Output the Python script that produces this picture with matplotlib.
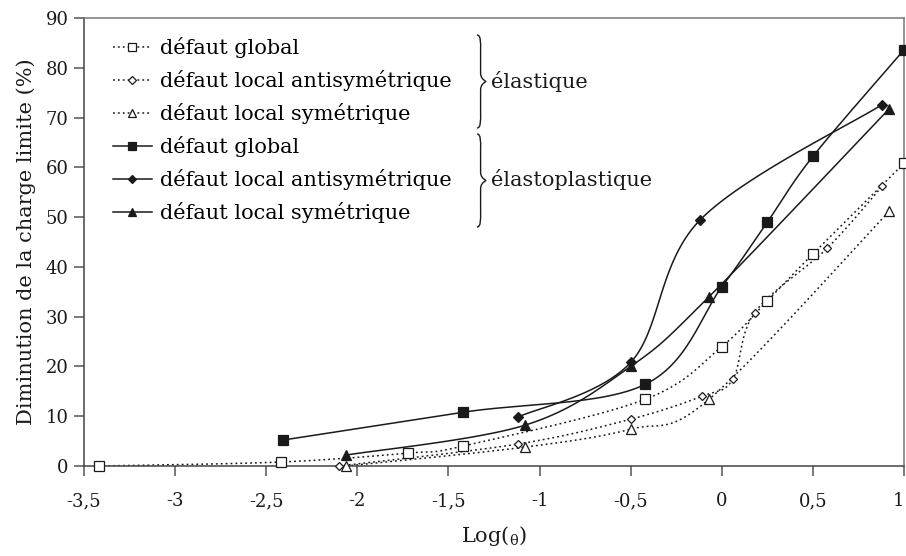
import numpy as np
import matplotlib
matplotlib.use("Agg")
import matplotlib.pyplot as plt
from matplotlib.path import Path
from matplotlib.patches import PathPatch

plt.rcParams['font.family'] = ['DejaVu Serif']
plt.rcParams['mathtext.fontset'] = 'dejavuserif'

# elastic case (open markers, dotted)
el_glob_x = [-3.42, -2.42, -1.72, -1.42, -0.42, 0.0, 0.25, 0.5, 1.0]
el_glob_y = [0.0, 0.8, 2.6, 4.0, 13.4, 24.0, 33.2, 42.6, 60.8]
el_anti_x = [-2.1, -1.12, -0.5, -0.11, 0.06, 0.18, 0.58, 0.88]
el_anti_y = [0.0, 4.4, 9.4, 14.0, 17.4, 30.8, 43.8, 56.2]
el_sym_x = [-2.06, -1.08, -0.5, -0.07, 0.92]
el_sym_y = [0.0, 3.8, 7.4, 13.4, 51.2]

# elastoplastic case (filled markers, solid)
ep_glob_x = [-2.41, -1.42, -0.42, 0.0, 0.25, 0.5, 1.0]
ep_glob_y = [5.2, 10.8, 16.4, 36.0, 49.0, 62.2, 83.6]
ep_anti_x = [-1.12, -0.5, -0.12, 0.88]
ep_anti_y = [9.8, 20.8, 49.4, 72.6]
ep_sym_x = [-2.06, -1.08, -0.5, -0.07, 0.92]
ep_sym_y = [2.2, 8.2, 20.0, 34.0, 71.8]

labels = ['défaut global', 'défaut local antisymétrique', 'défaut local symétrique']


def smooth(x, y, n=30):
    # cubic Bezier through points, tangents from neighbours (spreadsheet-style)
    p = np.column_stack([x, y]).astype(float)
    out = [p[0]]
    for i in range(len(p) - 1):
        p0 = p[i - 1] if i > 0 else p[i]
        p3 = p[i + 2] if i + 2 < len(p) else p[i + 1]
        c1 = p[i] + (p[i + 1] - p0) / 6
        c2 = p[i + 1] - (p3 - p[i]) / 6
        t = np.linspace(0, 1, n)[1:, None]
        seg = ((1 - t) ** 3 * p[i] + 3 * (1 - t) ** 2 * t * c1
               + 3 * (1 - t) * t ** 2 * c2 + t ** 3 * p[i + 1])
        out.extend(seg)
    out = np.array(out)
    return out[:, 0], out[:, 1]


fig = plt.figure(figsize=(9.06, 5.56), dpi=100)
ax = fig.add_axes([84 / 906, 1 - 466 / 556, 820 / 906, 448 / 556])

k = '#1a1a1a'
dot = (0, (1.2, 2.0))
series = [
    (el_glob_x, el_glob_y, 's', 'white', 6.5, dot, labels[0]),
    (el_anti_x, el_anti_y, 'D', 'white', 4.5, dot, labels[1]),
    (el_sym_x, el_sym_y, '^', 'white', 6.5, dot, labels[2]),
    (ep_glob_x, ep_glob_y, 's', k, 7, '-', labels[0]),
    (ep_anti_x, ep_anti_y, 'D', k, 5, '-', labels[1]),
    (ep_sym_x, ep_sym_y, '^', k, 7, '-', labels[2]),
]
handles = []
for x, y, m, fc, ms, ls, lab in series:
    sx, sy = smooth(x, y)
    ax.plot(sx, sy, color=k, ls=ls, lw=1.1, zorder=2)
    ax.plot(x, y, ls='none', marker=m, ms=ms, mfc=fc, mec=k, mew=0.9,
            zorder=3, clip_on=False)
    h, = ax.plot([], [], color=k, ls=ls, lw=1.1, marker=m, ms=ms * 0.85,
                 mfc=fc, mec=k, mew=0.9, label=lab)
    handles.append(h)

fs = 15
ax.legend(handles=handles, loc='upper left', bbox_to_anchor=(113 / 906, 1 - 37 / 556),
          bbox_transform=fig.transFigure, frameon=False, fontsize=fs,
          handlelength=1.87, handletextpad=0.38, labelspacing=0.58,
          borderaxespad=0, borderpad=0, numpoints=1)


def brace(x, y0, y1, w=9):
    # right-facing curly brace in figure pixels (top-down y)
    ym = (y0 + y1) / 2
    pts = [(x, y0), (x + w * 0.45, y0), (x + w * 0.4, y0 + 8), (x + w * 0.4, y0 + 14),
           (x + w * 0.4, ym - 8), (x + w * 0.4, ym - 3), (x + w, ym),
           (x + w * 0.4, ym + 3), (x + w * 0.4, ym + 8), (x + w * 0.4, y1 - 14),
           (x + w * 0.4, y1 - 8), (x + w * 0.45, y1), (x, y1)]
    verts = [(px / 906, 1 - py / 556) for px, py in pts]
    codes = [Path.MOVETO, Path.CURVE4, Path.CURVE4, Path.CURVE4, Path.LINETO,
             Path.CURVE3, Path.CURVE3, Path.CURVE3, Path.CURVE3, Path.LINETO,
             Path.CURVE4, Path.CURVE4, Path.CURVE4]
    fig.add_artist(PathPatch(Path(verts, codes), transform=fig.transFigure,
                             fill=False, lw=1.0, ec=k))


brace(477, 35, 128)
brace(477, 134, 227)
fig.text(491 / 906, 1 - 82 / 556, 'élastique', fontsize=fs, va='center', color=k)
fig.text(491 / 906, 1 - 180 / 556, 'élastoplastique', fontsize=fs, va='center', color=k)

ax.set_xlim(-3.5, 1.0)
ax.set_ylim(0, 90)
ax.set_xticks(np.arange(-3.5, 1.01, 0.5))
ax.set_xticklabels(['-3,5', '-3', '-2,5', '-2', '-1,5', '-1', '-0,5', '0', '0,5', '1'])
ax.get_xticklabels()[-1].set_horizontalalignment('right')
ax.set_yticks(np.arange(0, 91, 10))
ax.tick_params(labelsize=13, colors='#555555', labelcolor=k, length=7, width=1.1,
               direction='out')
ax.tick_params(axis='x', pad=12)
ax.tick_params(axis='y', pad=4)
for s in ax.spines.values():
    s.set_color('#777777')
    s.set_linewidth(1.1)
ax.spines['left'].set_color('#444444')
ax.spines['bottom'].set_color('#444444')
ax.set_xlabel(r'Log($_{\mathrm{\theta}}$)', fontsize=15, color=k, labelpad=10)
ax.set_ylabel('Diminution de la charge limite (%)', fontsize=15, color=k, labelpad=7)

fig.savefig('out.png', dpi=100)
